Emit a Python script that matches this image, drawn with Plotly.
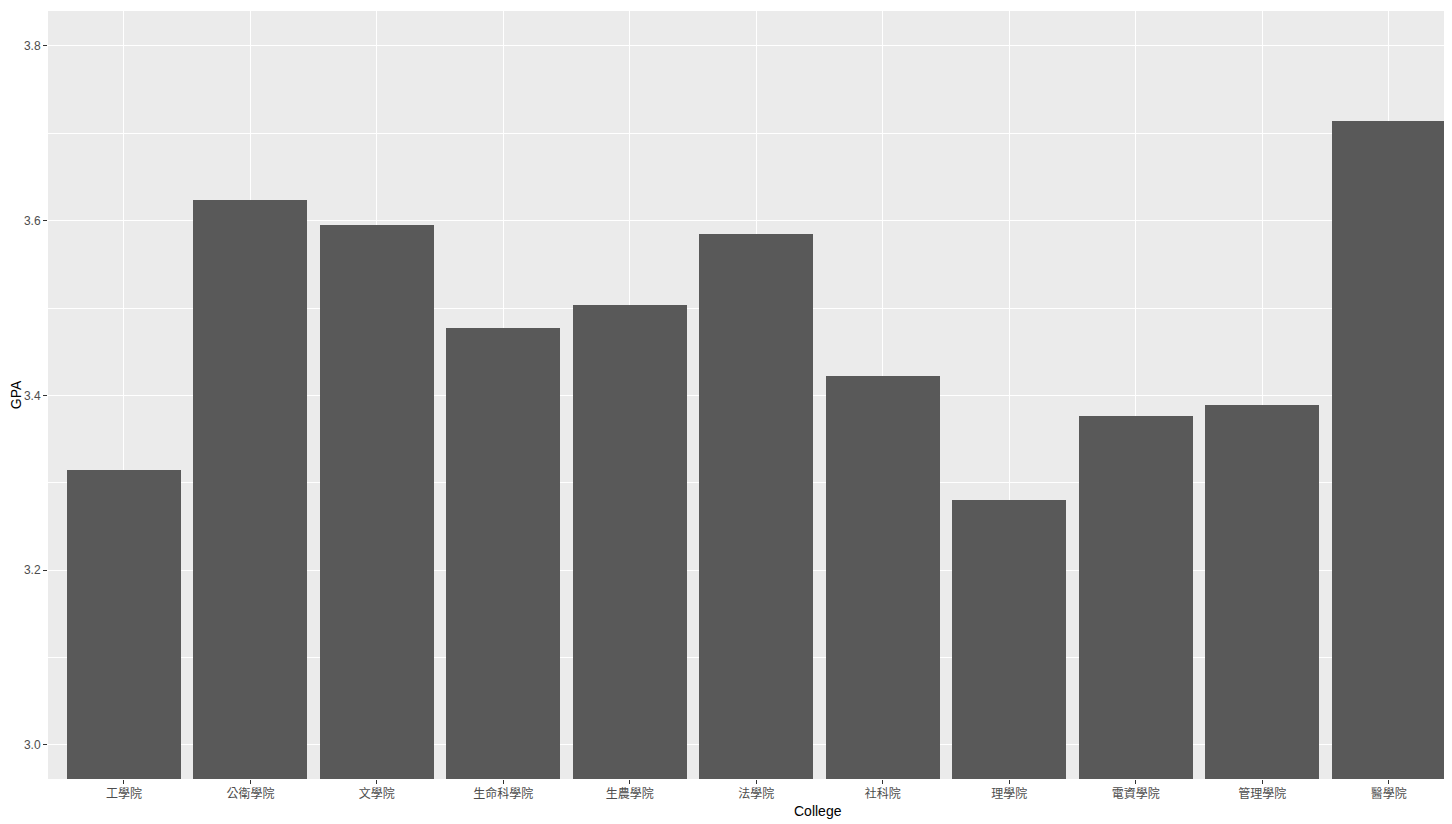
import plotly.graph_objects as go

colleges = ["工學院", "公衛學院", "文學院", "生命科學院", "生農學院", "法學院",
            "社科院", "理學院", "電資學院", "管理學院", "醫學院"]
gpa = [3.315, 3.624, 3.595, 3.477, 3.504, 3.585, 3.422, 3.280, 3.377, 3.389, 3.714]

PANEL = "#EBEBEB"
BAR = "#595959"
TICK_TEXT = "#4D4D4D"
FONT = "Liberation Sans, Arial, Noto Sans CJK TC, sans-serif"

fig = go.Figure(
    go.Bar(
        x=list(range(len(colleges))),
        y=gpa,
        width=0.9,
        marker=dict(color=BAR, line=dict(width=0)),
        hovertext=colleges,
    )
)

# page body has an 8px margin, so the figure is sized to sit inside the window
fig.update_layout(
    width=1444,
    height=816,
    paper_bgcolor="white",
    plot_bgcolor=PANEL,
    font=dict(family=FONT, color="black"),
    margin=dict(l=40, r=0, t=3, b=45),
    showlegend=False,
    bargap=0,
)

fig.update_xaxes(
    range=[-0.6, 10.5],
    tickmode="array",
    tickvals=list(range(len(colleges))),
    ticktext=colleges,
    tickfont=dict(size=12, color=TICK_TEXT, family=FONT),
    ticks="outside",
    ticklen=4,
    tickwidth=1,
    tickcolor="#333333",
    showgrid=True,
    gridcolor="white",
    gridwidth=1.2,
    zeroline=False,
    showline=False,
)

# x title sits off-centre in the (cropped) original, so place it by hand
fig.add_annotation(
    text="College",
    xref="paper", yref="paper",
    x=0.5484, y=0,
    yshift=-32,
    xanchor="center", yanchor="middle",
    showarrow=False,
    font=dict(size=14, color="black", family=FONT),
)

fig.update_yaxes(
    range=[2.961, 3.840],
    tickmode="linear",
    tick0=3.0,
    dtick=0.2,
    tickformat=".1f",
    tickfont=dict(size=12, color=TICK_TEXT, family=FONT),
    ticks="outside",
    ticklen=4,
    tickwidth=1,
    tickcolor="#333333",
    showgrid=True,
    gridcolor="white",
    gridwidth=1.2,
    minor=dict(tick0=3.1, dtick=0.2, showgrid=True, gridcolor="white", gridwidth=0.6, ticks=""),
    zeroline=False,
    showline=False,
    title=dict(text="GPA", font=dict(size=14, color="black"), standoff=1),
)

fig.write_html("out.html")
